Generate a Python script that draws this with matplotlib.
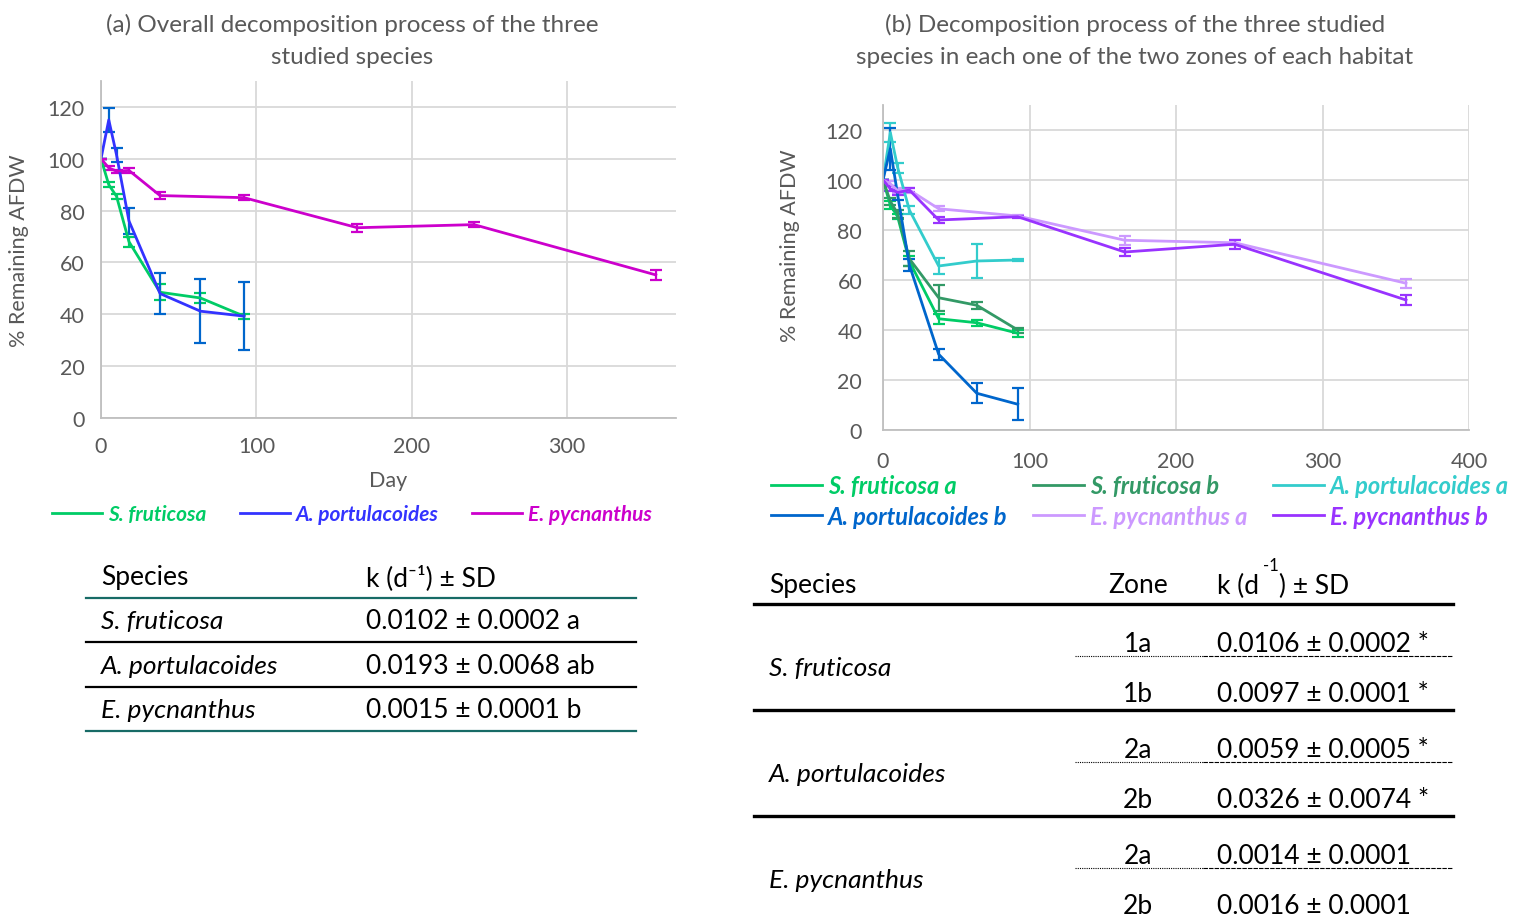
import matplotlib
matplotlib.use("Agg")
import matplotlib.pyplot as plt
from matplotlib.lines import Line2D

plt.rcParams['font.family'] = ['Lato', 'DejaVu Sans']

GRAY = '#595959'

# sampling days
days = [0, 5, 10, 18, 38, 64, 92]
days_ep = [0, 5, 10, 18, 38, 92, 165, 240, 357]

# (a) overall, mean % remaining AFDW and SD
sf_all = [100, 90, 85.5, 68, 48.5, 46.3, 39.3]
sf_all_sd = [0, 1, 1, 2, 3, 2, 1]
ap_all = [100, 115, 101.5, 76, 48, 41.2, 39.3]
ap_all_sd = [0, 4.5, 2.6, 5, 8, 12.4, 13.2]
ep_all = [100, 96.5, 95.2, 95.5, 85.8, 85, 73.4, 74.6, 55.2]
ep_all_sd = [0, 0.8, 0.5, 0.8, 1.2, 1, 1.5, 1, 2]

# (b) per zone
sf_a = [100, 90, 85.3, 67.5, 44.5, 42.9, 38.7]
sf_a_sd = [0, 1.5, 1, 2, 1.9, 1.3, 1.3]
sf_b = [100, 91.5, 86.5, 68.5, 52.9, 49.9, 40]
sf_b_sd = [0, 1.5, 1.5, 3, 5.3, 1.5, 1]
ap_a = [100, 119, 105, 88, 65.6, 67.6, 68]
ap_a_sd = [0, 3.7, 2, 1.5, 3.3, 6.7, 0.5]
ap_b = [100, 112.5, 94, 66, 30.3, 14.7, 10.3]
ap_b_sd = [0, 8.5, 2, 2.3, 2.3, 4, 6.4]
ep_a = [100, 98.5, 95.8, 96, 88.5, 85.6, 75.9, 74.9, 58.7]
ep_a_sd = [0, 1, 1, 1, 1, 0.5, 1.9, 1, 1.7]
ep_b = [100, 96.5, 95, 96, 84, 85.3, 71.2, 74.3, 52]
ep_b_sd = [0, 1, 0.8, 0.8, 1.3, 0.5, 1.5, 1.8, 2]

# tables
tab_a_species = ['S. fruticosa', 'A. portulacoides', 'E. pycnanthus']
tab_a_k = ['0.0102 ± 0.0002 a', '0.0193 ± 0.0068 ab', '0.0015 ± 0.0001 b']
tab_b_species = ['S. fruticosa', 'A. portulacoides', 'E. pycnanthus']
tab_b_zone = ['1a', '1b', '2a', '2b', '2a', '2b']
tab_b_k = ['0.0106 ± 0.0002 *', '0.0097 ± 0.0001 *', '0.0059 ± 0.0005 *',
           '0.0326 ± 0.0074 *', '0.0014 ± 0.0001', '0.0016 ± 0.0001']

W, H = 1516, 920
fig = plt.figure(figsize=(W / 100, H / 100), dpi=100)


def px_axes(l, t, r, b):
    return fig.add_axes([l / W, 1 - b / H, (r - l) / W, (b - t) / H])


def style(ax, xmax, xticks, ypad, xpad):
    ax.set_xlim(0, xmax)
    ax.set_ylim(0, 130)
    ax.set_yticks(range(0, 121, 20))
    ax.set_xticks(xticks)
    ax.grid(True, color='#d9d9d9', lw=1.3)
    ax.set_axisbelow(True)
    for s in ['top', 'right']:
        ax.spines[s].set_visible(False)
    for s in ['left', 'bottom']:
        ax.spines[s].set_color('#bfbfbf')
        ax.spines[s].set_linewidth(1.3)
    ax.tick_params(length=0, labelsize=15.5, labelcolor=GRAY)
    ax.tick_params(axis='y', pad=ypad)
    ax.tick_params(axis='x', pad=xpad)
    ax.set_ylabel('% Remaining AFDW', fontsize=15.5, color=GRAY)


def series(ax, x, y, sd, color, label, ecolor=None):
    ax.errorbar(x, y, yerr=sd, color=color, ecolor=ecolor or color, lw=2,
                elinewidth=1.6, capsize=4, capthick=1.6, label=label)


def legend_handles(ax):
    h, l = ax.get_legend_handles_labels()
    return [Line2D([], [], color=hh[0].get_color(), lw=2) for hh in h], l


# ---- (a)
ax1 = px_axes(101, 82, 676, 419)
style(ax1, 370, [0, 100, 200, 300], 12, 13)
series(ax1, days, sf_all, sf_all_sd, '#00CC66', 'S. fruticosa')
series(ax1, days, ap_all, ap_all_sd, '#3333FF', 'A. portulacoides', '#0066CC')
series(ax1, days_ep, ep_all, ep_all_sd, '#CC00CC', 'E. pycnanthus')
ax1.yaxis.set_label_coords((29 - 101) / 575, 0.5)
ax1.set_xlabel('Day', fontsize=15.5, color=GRAY)
ax1.xaxis.set_label_coords(0.5, (419 - 471) / 337)
h, l = legend_handles(ax1)
ax1.legend(h, l, loc='center', bbox_to_anchor=((352 - 101) / 575, (419 - 515) / 337),
           ncol=3, frameon=False, handlelength=2.4, handletextpad=0.3,
           columnspacing=1.6, labelcolor='linecolor',
           prop={'style': 'italic', 'weight': 'bold', 'size': 15})

# ---- (b)
ax2 = px_axes(883, 106, 1469, 431)
style(ax2, 400, [0, 100, 200, 300, 400], 15, 15)
series(ax2, days, sf_a, sf_a_sd, '#00CC66', 'S. fruticosa a')
series(ax2, days, sf_b, sf_b_sd, '#339966', 'S. fruticosa b')
series(ax2, days, ap_a, ap_a_sd, '#33CCCC', 'A. portulacoides a')
series(ax2, days, ap_b, ap_b_sd, '#0066CC', 'A. portulacoides b')
series(ax2, days_ep, ep_a, ep_a_sd, '#CC99FF', 'E. pycnanthus a')
series(ax2, days_ep, ep_b, ep_b_sd, '#9933FF', 'E. pycnanthus b')
ax2.yaxis.set_label_coords((800 - 883) / 586, 0.57)
h, l = legend_handles(ax2)
order = [0, 3, 1, 4, 2, 5]  # row-wise reading order
ax2.legend([h[i] for i in order], [l[i] for i in order], loc='center',
           bbox_to_anchor=((1140 - 883) / 586, (431 - 502) / 325),
           ncol=3, frameon=False, handlelength=2.15, handletextpad=0.25,
           columnspacing=1.1, labelcolor='linecolor', labelspacing=0.3,
           prop={'style': 'italic', 'weight': 'bold', 'size': 17})

# ---- titles and tables (overlay in pixel coordinates)
ov = fig.add_axes([0, 0, 1, 1])
ov.set_xlim(0, W)
ov.set_ylim(H, 0)
ov.axis('off')

ov.text(352, 25, '(a) Overall decomposition process of the three', fontsize=17.5,
        color=GRAY, ha='center', va='center')
ov.text(352, 57, 'studied species', fontsize=17.5, color=GRAY, ha='center', va='center')
ov.text(1135, 25, '(b) Decomposition process of the three studied', fontsize=17.5,
        color=GRAY, ha='center', va='center')
ov.text(1135, 57, 'species in each one of the two zones of each habitat', fontsize=17.5,
        color=GRAY, ha='center', va='center')

TS = 19
TEAL = '#176B66'

ov.text(101, 578, 'Species', fontsize=TS, va='center')
ov.text(366, 578, 'k (d⁻¹) ± SD', fontsize=TS, va='center')
for i, (sp, k) in enumerate(zip(tab_a_species, tab_a_k)):
    y = 622 + i * 44.5
    ov.text(101, y, sp, fontsize=TS, va='center', style='italic')
    ov.text(366, y, k, fontsize=TS, va='center')
ov.plot([86, 636], [599, 599], color=TEAL, lw=1.6)
ov.plot([86, 636], [643, 643], color='black', lw=1.6)
ov.plot([86, 636], [688, 688], color='black', lw=1.6)
ov.plot([86, 636], [732, 732], color=TEAL, lw=1.6)

ov.text(769, 586, 'Species', fontsize=TS, va='center')
ov.text(1108, 586, 'Zone', fontsize=TS, va='center')
ov.text(1217, 586, 'k (d', fontsize=TS, va='center')
ov.text(1263, 566, '-1', fontsize=12, va='center')
ov.text(1279, 586, ') ± SD', fontsize=TS, va='center')
for y in [605, 711, 817]:
    ov.plot([754, 1453], [y, y], color='black', lw=2.4)
for i, sp in enumerate(tab_b_species):
    ov.text(769, 669 + i * 106, sp, fontsize=TS, va='center', style='italic')
for i, (z, k) in enumerate(zip(tab_b_zone, tab_b_k)):
    y = 645 + (i // 2) * 106 + (i % 2) * 50
    ov.text(1138, y, z, fontsize=TS, va='center', ha='center')
    ov.text(1217, y, k, fontsize=TS, va='center')
for y in [657, 763, 869]:
    ov.plot([1075, 1203], [y, y], color='black', lw=0.8, ls=(0, (1, 1)))
    ov.plot([1203, 1453], [y, y], color='black', lw=0.8, ls=(0, (4, 1)))

fig.savefig('out.png', dpi=100)
